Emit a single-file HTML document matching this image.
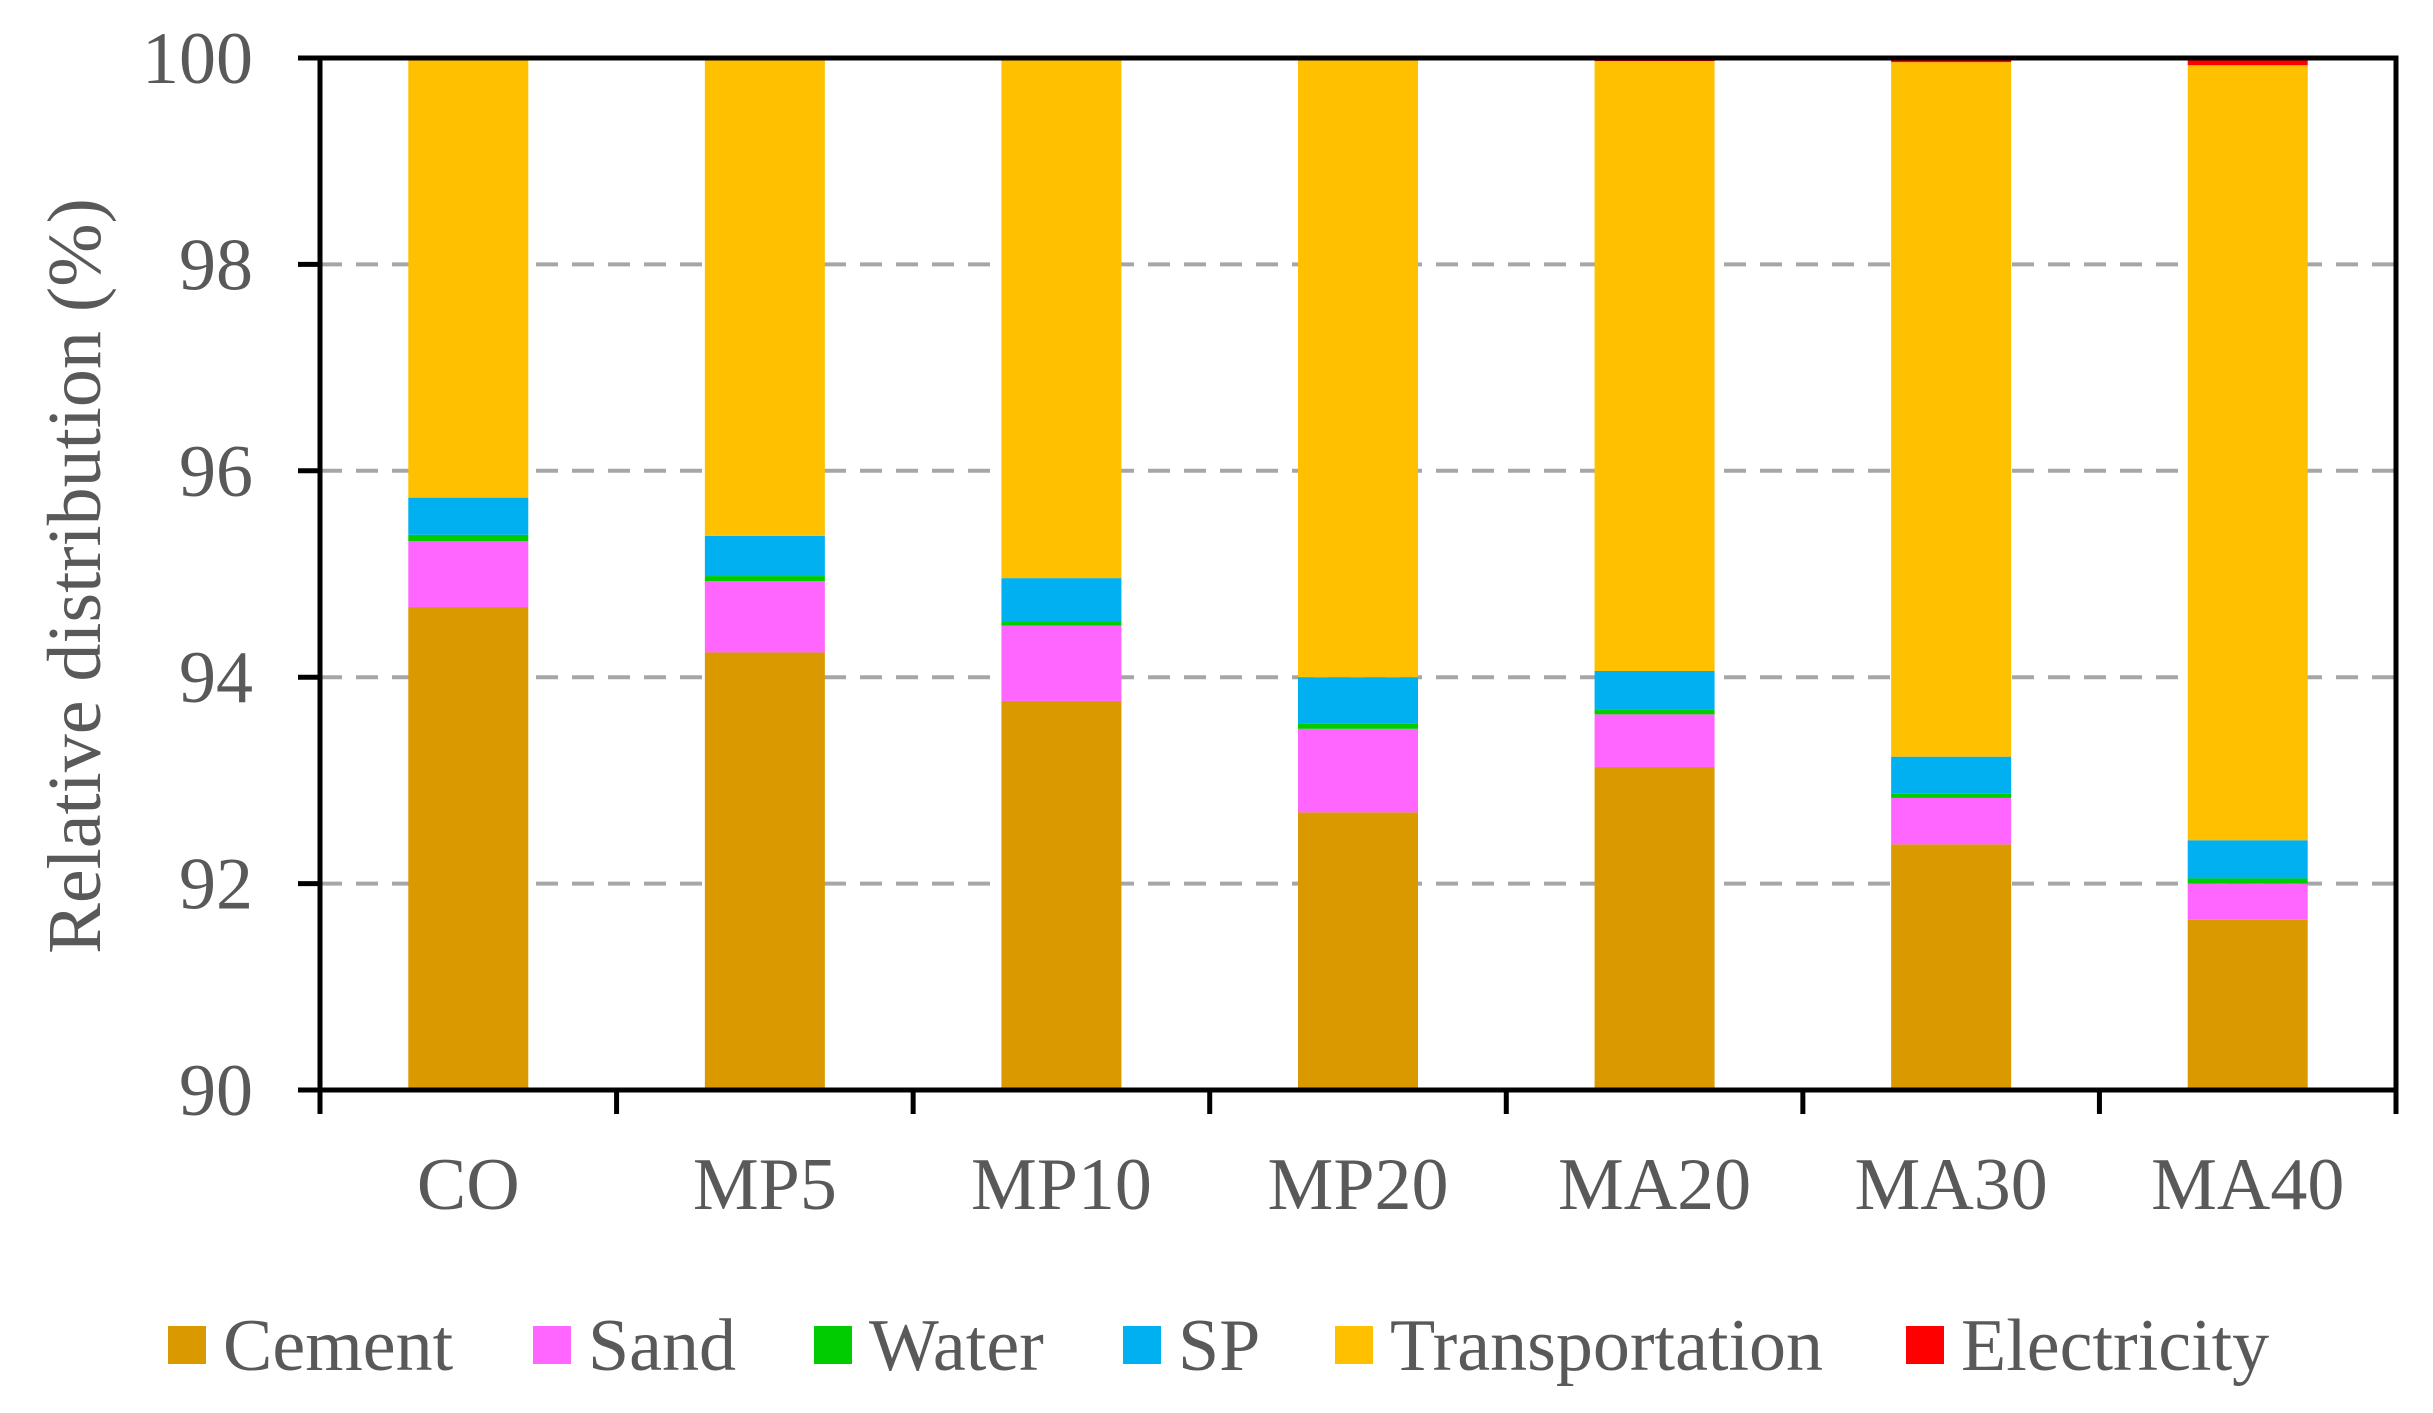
<!DOCTYPE html>
<html><head><meta charset="utf-8"><style>
html,body{margin:0;padding:0;background:#fff;}
svg, svg text{font-family:"Liberation Serif","Times New Roman","DejaVu Serif",serif;}
</style></head><body>
<svg id="chart" width="2433" height="1408" viewBox="0 0 2433 1408" xmlns="http://www.w3.org/2000/svg" font-family="Liberation Serif, Times New Roman, DejaVu Serif, serif">
<g id="grid"></g>
<g id="bars"></g>
<g id="axes"></g>
<text transform="translate(100,576) rotate(-90)" text-anchor="middle" font-size="76" fill="#595959">Relative distribution (%)</text>
<g id="legend"></g>
</svg>
<script>
const categories = ["CO","MP5","MP10","MP20","MA20","MA30","MA40"];
const cement = [94.68,94.24,93.77,92.69,93.13,92.38,91.65];
const sand = [0.64,0.69,0.73,0.81,0.51,0.45,0.35];
const water = [0.06,0.05,0.04,0.05,0.05,0.04,0.05];
const sp = [0.36,0.39,0.42,0.45,0.37,0.36,0.37];
const electricity = [0,0,0,0,0.03,0.04,0.07];
const yTicks = [90,92,94,96,98,100];
const seriesNames = ["Cement","Sand","Water","SP","Transportation","Electricity"];
const seriesColors = ["#DB9900","#FF66FF","#00CC00","#00B0F0","#FFC000","#FF0000"];

const NS="http://www.w3.org/2000/svg";
const L=320,R=2396,T=58,B=1090,yMin=90,yMax=100;
const y=v=>B-(Math.max(yMin,Math.min(yMax,v))-yMin)/(yMax-yMin)*(B-T);
const band=(R-L)/categories.length;
const xc=i=>L+band*(i+0.5);
const bw=120;
function mk(tag,attrs,parent){const e=document.createElementNS(NS,tag);for(const k in attrs)e.setAttribute(k,attrs[k]);parent.appendChild(e);return e;}
const grid=document.getElementById('grid'),bars=document.getElementById('bars'),axes=document.getElementById('axes'),legend=document.getElementById('legend');

yTicks.forEach(t=>{
  if(t>yMin&&t<yMax){const g=mk('line',{x1:L,x2:R,y1:y(t),y2:y(t),stroke:'#A6A6A6','stroke-width':4,'stroke-dasharray':'22 14'},grid);
  
  }
  const tk=mk('line',{x1:L-22,x2:L,y1:y(t),y2:y(t),stroke:'#000','stroke-width':5},axes);
  
  
  const tx=mk('text',{x:253,y:y(t)+25,'text-anchor':'end','font-size':74,fill:'#595959'},axes);
  tx.textContent=t;
  
  
});

categories.forEach((c,i)=>{
  const comps=[cement[i],sand[i],water[i],sp[i]];
  let base=0;const tops=[];
  comps.forEach(v=>{base+=v;tops.push(base);});
  const transTop=100-electricity[i];
  const segs=[[0,tops[0]],[tops[0],tops[1]],[tops[1],tops[2]],[tops[2],tops[3]],[tops[3],transTop],[transTop,100]];
  segs.forEach((s,k)=>{
    if(s[1]<=s[0])return;
    const r=mk('rect',{x:xc(i)-bw/2,y:y(s[1]),width:bw,height:Math.max(0,y(s[0])-y(s[1])),fill:seriesColors[k]},bars);
    
    
  });
  const lb=mk('text',{x:xc(i),y:1209,'text-anchor':'middle','font-size':74,fill:'#595959'},axes);
  lb.textContent=c;
  
  
});
for(let i=0;i<=categories.length;i++){
  const x=L+band*i;
  const tk=mk('line',{x1:x,x2:x,y1:B,y2:B+24,stroke:'#000','stroke-width':5},axes);
  
  
}
const frame=mk('rect',{x:L,y:T,width:R-L,height:B-T,fill:'none',stroke:'#000','stroke-width':5},axes);



const legX=[168,533,814,1123,1335,1906];
seriesNames.forEach((n,k)=>{
  const g=mk('g',{},legend);
  
  
  mk('rect',{x:legX[k],y:1326,width:38,height:38,fill:seriesColors[k]},g);
  const t=mk('text',{x:legX[k]+55,y:1370,'font-size':74,fill:'#595959'},g);
  t.textContent=n;
});
</script>
</body></html>
